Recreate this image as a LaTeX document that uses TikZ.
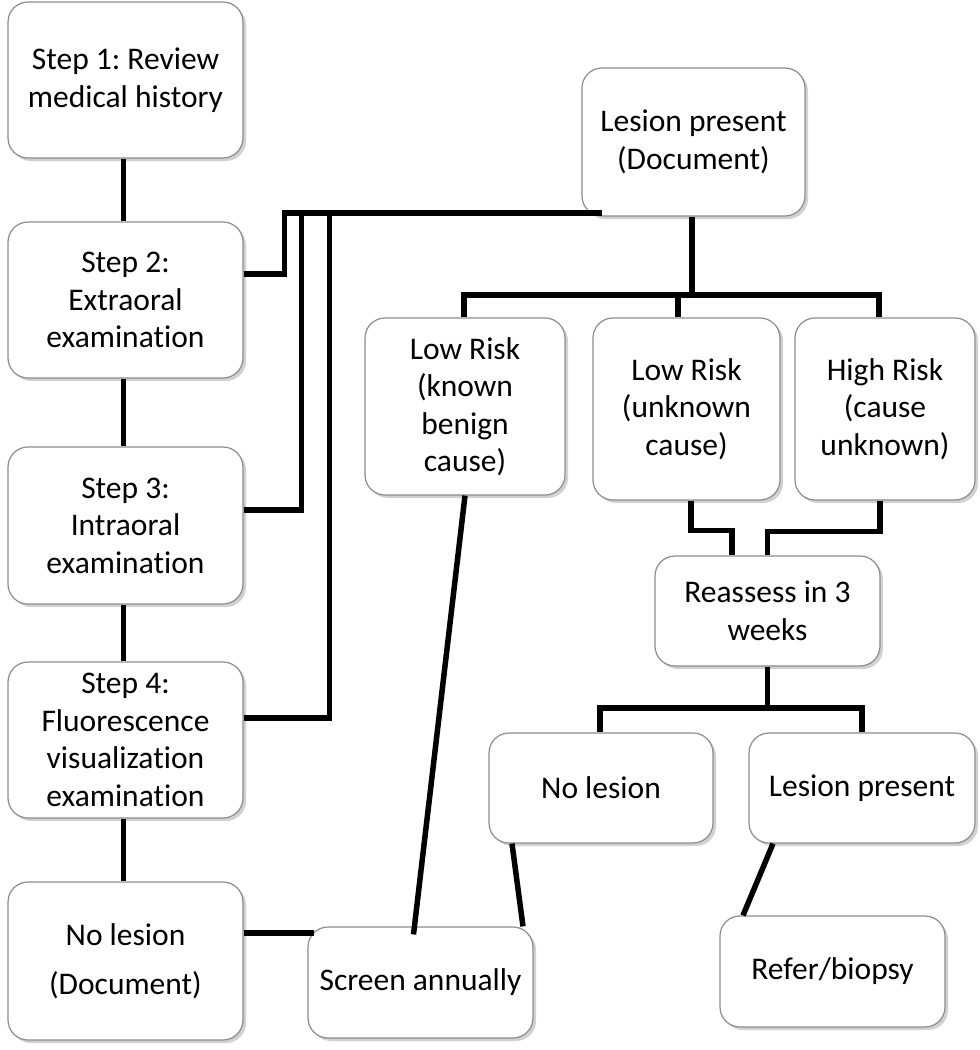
\documentclass[tikz,border=0pt]{standalone}
\usepackage{fontspec}
\setmainfont[Ligatures=NoCommon]{Carlito}
\usetikzlibrary{shadows}
\frenchspacing
\begin{document}
\begin{tikzpicture}[x=1pt,y=-1pt,
  box/.style={draw=black!45, line width=1.2pt, fill=white, rounded corners=20pt,
    inner sep=0pt, align=center, font=\fontsize{31.5}{37.5}\selectfont,
    drop shadow={opacity=0.3, shadow xshift=3pt, shadow yshift=-3pt, fill=black!60}},
  conn/.style={line width=5.5pt, black}]
\useasboundingbox (0,0) rectangle (980,1050);
% left column
\node[box, minimum width=235pt, minimum height=156pt] (s1) at (125.5,80) {Step 1: Review\\medical history};
\node[box, minimum width=235pt, minimum height=156pt] (s2) at (125.5,300) {Step 2:\\Extraoral\\examination};
\node[box, minimum width=235pt, minimum height=157pt] (s3) at (125.5,525.5) {Step 3:\\Intraoral\\examination};
\node[box, minimum width=235pt, minimum height=156pt] (s4) at (125.5,740) {Step 4:\\Fluorescence\\visualization\\examination};
\node[box, minimum width=235pt, minimum height=158pt] (nl) at (125.5,961) {No lesion\\[11pt](Document)};
% right part
\node[box, minimum width=223pt, minimum height=148pt] (lp) at (693.5,142) {Lesion present\\(Document)};
\node[box, minimum width=200pt, minimum height=177pt] (lrk) at (465,406.5) {Low Risk\\(known\\benign\\cause)};
\node[box, minimum width=187pt, minimum height=182pt] (lru) at (686.5,409) {Low Risk\\(unknown\\cause)};
\node[box, minimum width=180pt, minimum height=182pt] (hr) at (885,409) {High Risk\\(cause\\unknown)};
\node[box, minimum width=225pt, minimum height=110pt] (re) at (767.5,611) {Reassess in 3\\weeks};
\node[box, minimum width=224pt, minimum height=110pt] (nl2) at (601,788) {No lesion};
\node[box, minimum width=226pt, minimum height=110pt] (lp2) at (862,788) {Lesion present};
\node[box, minimum width=225pt, minimum height=111pt] (sa) at (420.5,982.5) {Screen annually};
\node[box, minimum width=225pt, minimum height=111pt] (rb) at (832.5,971.5) {Refer/biopsy};
% connectors
\coordinate (bus) at (602,213);
\coordinate (split1) at (692,295);
\draw[conn] ([xshift=-2pt]s1.south) -- ([xshift=-2pt]s2.north);
\draw[conn] ([xshift=-2pt]s2.south) -- ([xshift=-2pt]s3.north);
\draw[conn] ([xshift=-2pt]s3.south) -- ([xshift=-2pt]s4.north);
\draw[conn] ([xshift=-2pt]s4.south) -- ([xshift=-2pt]nl.north);
\draw[conn] ([yshift=26pt]s2.east) -- ++(41,0) |- (bus);
\draw[conn] ([yshift=15.5pt]s3.east) -- ++(58,0) |- (bus);
\draw[conn] ([yshift=22pt]s4.east) -- ++(86,0) |- (bus);
\draw[conn] ([xshift=-1.5pt]lp.south) -- (split1);
\draw[conn] (split1) -| ([xshift=-1pt]lrk.north);
\draw[conn] (split1) -| ([xshift=-8.5pt]lru.north);
\draw[conn] (split1) -| ([xshift=-6pt]hr.north);
\draw[conn] ([xshift=4.5pt]lru.south) -- ++(0,30) -| ([xshift=-35.5pt]re.north);
\draw[conn] ([xshift=-5pt]hr.south) -- ++(0,31) -| (re.north);
\coordinate (split2) at (767.5,708);
\draw[conn] (re.south) -- (split2);
\draw[conn] (split2) -| ([xshift=-1pt]nl2.north);
\draw[conn] (split2) -| (lp2.north);
\draw[conn] (lrk.south) -- ([xshift=-7pt,yshift=-8pt]sa.north);
\draw[conn] ([xshift=-89pt]nl2.south) -- ([xshift=102.5pt]sa.north);
\draw[conn] ([xshift=-89pt]lp2.south) -- ([xshift=-89.5pt]rb.north);
\draw[conn] ([yshift=28pt]nl.east) -- ([xshift=7pt,yshift=49.5pt]sa.west);
\end{tikzpicture}
\end{document}
